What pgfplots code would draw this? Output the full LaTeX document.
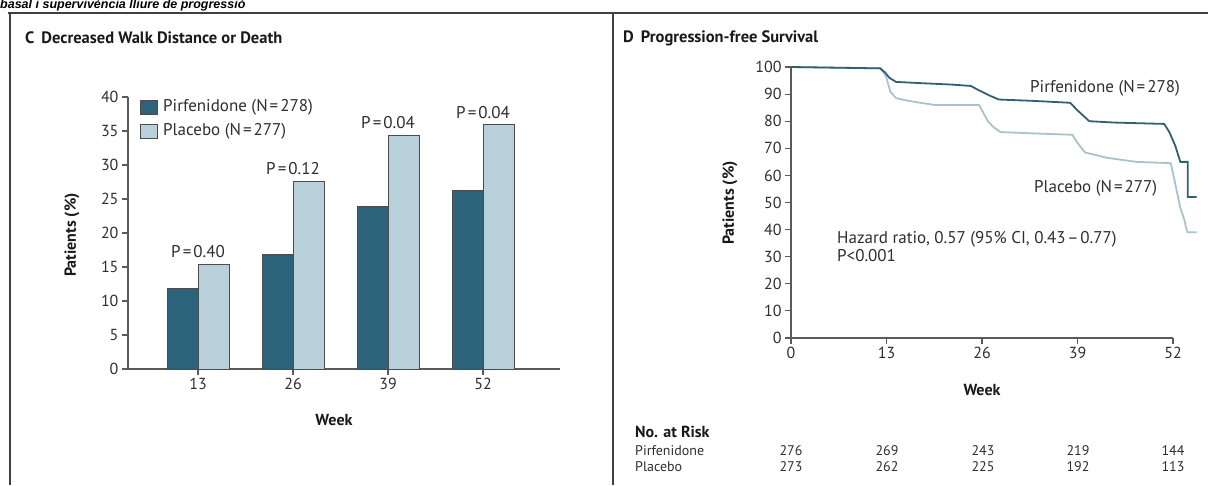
\documentclass[border=0pt]{standalone}
\usepackage{fontspec}
\setmainfont{PT Sans}
\newfontfamily\capfont{Liberation Sans}
\usepackage{pgfplots}
\pgfplotsset{compat=1.18}
\definecolor{darkbar}{HTML}{2C627A}
\definecolor{lightbar}{HTML}{B8D0DA}
\definecolor{darkline}{HTML}{345F70}
\definecolor{lightline}{HTML}{A9C3CD}
\definecolor{txt}{HTML}{2E2E2E}
\definecolor{axc}{HTML}{5A5A5A}
\newcommand\fs{\fontsize{14}{16}\selectfont}
\newcommand\fa{\fontsize{17}{19}\selectfont}
\newcommand\fk{\fontsize{16}{18}\selectfont}
\newcommand\ft{\fontsize{16.5}{19}\selectfont}
\newcommand\eq{\kern0.12em=\kern0.12em}
\pgfplotsset{
  panel/.style={
    scale only axis, anchor=south west,
    axis lines*=left, axis line style={axc, line width=1.3pt, -},
    tick pos=left, tick align=outside, major tick length=6pt,
    tick style={axc, line width=1.1pt},
    tick label style={font=\fk, text=txt},
  }
}
\begin{document}
\begin{tikzpicture}
\useasboundingbox (0pt,0pt) rectangle (1208pt,-485pt);
% clipped caption at the very top
\node[anchor=base west, inner sep=0pt, text=black] at (0pt,-8pt) {\capfont\bfseries\itshape\fontsize{12.5}{15}\selectfont basal i supervivència lliure de progressió};
% frame
\draw[line width=2.6pt, black!75] (8pt,-13pt) -- (1208pt,-13pt);
\draw[line width=2.6pt, black!75] (10pt,-12pt) -- (10pt,-485pt);
\draw[line width=2.6pt, black!75] (613pt,-12pt) -- (613pt,-485pt);
% panel titles
\node[anchor=west, inner sep=0pt, text=black!90] at (25pt,-38pt) {\ft\textbf{C}\hspace{7pt}\textbf{Decreased Walk Distance or Death}};
\node[anchor=west, inner sep=0pt, text=black!90] at (623pt,-38pt) {\ft\textbf{D}\hspace{7pt}\textbf{Progression-free Survival}};

% ---------------- Panel C ----------------
\begin{axis}[panel, at={(128pt,-369pt)}, width=432pt, height=272pt,
  xmin=0.263, xmax=4.81, ymin=0, ymax=40,
  xtick={1,2,3,4}, xticklabels={13,26,39,52},
  ytick={0,5,...,40}, yticklabel={\pgfmathparse{int(round(\tick))}\pgfmathresult},
  clip=false]
\addplot[ybar, bar width=0.326, bar shift=-0.163, fill=darkbar, draw=black!70, line width=0.8pt]
  coordinates {(1,11.8) (2,16.8) (3,23.9) (4,26.2)};
\addplot[ybar, bar width=0.326, bar shift=0.163, fill=lightbar, draw=black!70, line width=0.8pt]
  coordinates {(1,15.4) (2,27.6) (3,34.4) (4,35.9)};
\addplot[draw=none, mark=none, nodes near coords, point meta=explicit symbolic,
  nodes near coords style={anchor=center, yshift=12.5pt, font=\fa, text=txt}]
  coordinates {(1,15.4) [P\eq0.40] (2,27.6) [P\eq0.12] (3,34.4) [P\eq0.04] (4,35.9) [P\eq0.04]};
\end{axis}
% legend C
\fill[darkbar, draw=black!70, line width=0.6pt] (140pt,-100pt) rectangle (157pt,-114pt);
\fill[lightbar, draw=black!70, line width=0.6pt] (140pt,-124pt) rectangle (157pt,-138pt);
\node[anchor=west, inner sep=0pt, text=txt] at (163pt,-107pt) {\fa Pirfenidone (N\eq278)};
\node[anchor=west, inner sep=0pt, text=txt] at (163pt,-131pt) {\fa Placebo (N\eq277)};
\node[rotate=90, text=black!90] at (72pt,-235pt) {\fk\textbf{Patients (\%)}};
\node[text=black!90] at (334pt,-420pt) {\fk\textbf{Week}};

% ---------------- Panel D ----------------
\begin{axis}[panel, at={(791pt,-338pt)}, width=382pt, height=271pt,
  xmin=0, xmax=52, ymin=0, ymax=100, clip=false,
  xtick={0,13,26,39,52}, ytick={0,10,...,100},
  xticklabel={\pgfmathparse{int(round(\tick))}\pgfmathresult},
  yticklabel={\pgfmathparse{int(round(\tick))}\pgfmathresult}]
\addplot[lightline, line width=1.8pt] coordinates {
 (0,100) (12.3,99.5) (13,96) (13.5,91) (14.3,88.5) (16,87.5) (19.5,86) (25.6,86)
 (26.2,83) (26.8,80) (27.5,78) (28.5,76) (33,75.5) (38.3,75) (39,72) (40,68.5)
 (43,66.5) (47,65) (51.7,64.5) (52.3,57) (53,48) (53.5,44) (53.8,40.5) (54,39) (55.2,39)};
\addplot[darkline, line width=1.8pt] coordinates {
 (0,100) (12.1,99.5) (12.8,98) (13.4,96) (14.3,94.5) (18,94) (22,93.5) (24.5,93)
 (25.5,91.5) (27,89.5) (28.3,88) (33,87.5) (38,86.8) (39,84) (40,81.5) (40.6,80)
 (44,79.5) (50.8,79) (51.5,76) (52.3,71) (53,65) (54,65) (54,52) (55.2,52)};
\end{axis}
\node[rotate=90, text=black!90] at (730pt,-203pt) {\fk\textbf{Patients (\%)}};
\node[text=black!90] at (982pt,-390pt) {\fk\textbf{Week}};
\node[anchor=west, inner sep=0pt, text=txt] at (1030pt,-88pt) {\fa Pirfenidone (N\eq278)};
\node[anchor=west, inner sep=0pt, text=txt] at (1034pt,-188pt) {\fa Placebo (N\eq277)};
\node[anchor=west, inner sep=0pt, text=txt] at (837pt,-239pt) {\fa Hazard ratio, 0.57 (95\% CI, 0.43\kern0.1em–\kern0.1em0.77)};
\node[anchor=west, inner sep=0pt, text=txt] at (837pt,-256pt) {\fa P<0.001};
% risk table
\node[anchor=west, inner sep=0pt, text=black!90] at (635pt,-432pt) {\fk\textbf{No. at Risk}};
\node[anchor=west, inner sep=0pt, text=txt] at (635pt,-451pt) {\fs Pirfenidone};
\node[anchor=west, inner sep=0pt, text=txt] at (635pt,-467pt) {\fs Placebo};
\foreach \x/\a/\b in {791/276/273, 887/269/262, 983/243/225, 1078/219/192, 1173/144/113} {
  \node[inner sep=0pt, text=txt] at (\x pt,-451pt) {\fs \a};
  \node[inner sep=0pt, text=txt] at (\x pt,-467pt) {\fs \b};
}
\end{tikzpicture}
\end{document}
